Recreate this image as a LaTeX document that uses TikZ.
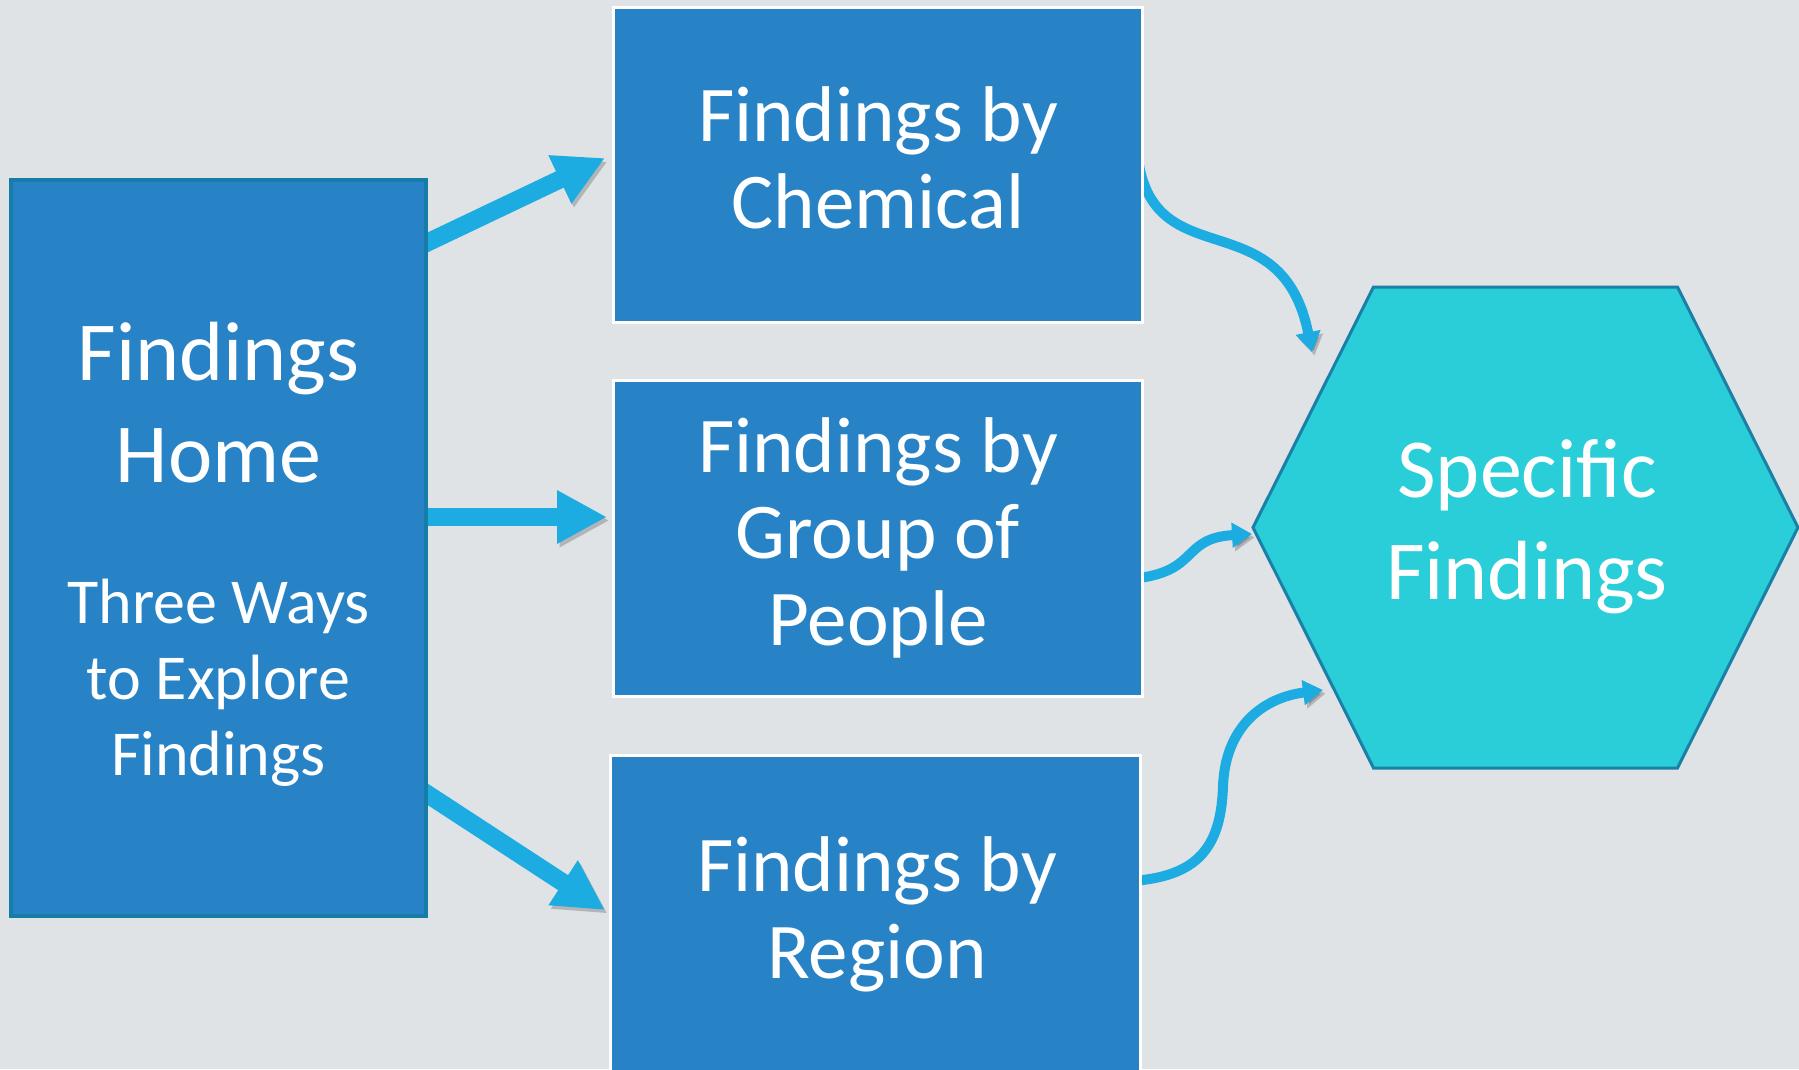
\documentclass[tikz,border=0pt]{standalone}
\usepackage{fontspec}
\setmainfont{Carlito}
\usetikzlibrary{arrows.meta,calc}
\definecolor{bgc}{RGB}{223,227,230}
\definecolor{boxc}{RGB}{39,131,198}
\definecolor{homeb}{RGB}{22,124,168}
\definecolor{hexc}{RGB}{42,206,216}
\definecolor{hexb}{RGB}{26,128,168}
\definecolor{arrc}{RGB}{29,172,226}
\pgfdeclarelayer{background}
\pgfsetlayers{background,main}
\tikzset{
  midbox/.style={rectangle, fill=boxc, draw=white, line width=3pt, inner sep=0pt, anchor=north west},
  homebox/.style={rectangle, fill=boxc, draw=homeb, line width=4pt, inner sep=0pt, anchor=north west},
  hexshape/.style={fill=hexc, draw=hexb, line width=3pt, line join=miter},
  bigtxt/.style={text=white, align=center, inner sep=0pt, anchor=base, font=\fontsize{84pt}{102pt}\selectfont},
  smalltxt/.style={text=white, align=center, inner sep=0pt, anchor=base, font=\fontsize{64pt}{76pt}\selectfont},
  boxtxt/.style={text=white, align=center, inner sep=0pt, anchor=base, font=\fontsize{79pt}{86.5pt}\selectfont},
  softshadow/.style={preaction={draw=black, opacity=0.2, transform canvas={shift={(2.5pt,-3.5pt)}}}},
  blockarrow/.style={draw=arrc, line width=18pt, -{Triangle[width=50pt,length=50pt]}, softshadow},
  curvearrow/.style={draw=arrc, line width=10pt, -{Triangle[width=24pt,length=20pt]}, softshadow},
}
\begin{document}
\begin{tikzpicture}[x=1pt,y=-1pt]
\useasboundingbox (0,0) rectangle (1799,1069);
\begin{pgfonlayer}{background}
  \fill[bgc] (0,0) rectangle (1799,1069);
\end{pgfonlayer}

% boxes
\node[homebox, minimum width=415pt, minimum height=736pt] (home) at (9,178) {};
\node[midbox, minimum width=529pt, minimum height=315pt] (chem) at (612,6) {};
\node[midbox, minimum width=529pt, minimum height=316pt] (group) at (612,379) {};
\node[midbox, minimum width=530pt, minimum height=330pt] (region) at (609,754) {};

% hexagon
\coordinate (spec) at (1525.5,527.5);
\draw[hexshape] ($(spec)+(-272.5,0)$) -- ($(spec)+(-152,-240.5)$) -- ($(spec)+(152,-240.5)$)
  -- ($(spec)+(272.5,0)$) -- ($(spec)+(152,240.5)$) -- ($(spec)+(-152,240.5)$) -- cycle;

% texts (anchor = baseline of the last line)
\node[bigtxt] (homeT) at (218.5,482) {Findings\\Home};
\node[smalltxt] (homeS) at (218.5,775) {Three Ways\\to Explore\\Findings};
\node[boxtxt] (chemT) at (878,228) {Findings by\\Chemical};
\node[boxtxt] (groupT) at (878,645) {Findings by\\Group of\\People};
\node[boxtxt] (regionT) at (877,978) {Findings by\\Region};
\node[bigtxt] (specT) at (1527,599) {Specific\\Findings};

% connectors
\begin{pgfonlayer}{background}
  \draw[blockarrow] ([shift={(-10,69)}]home.north east) -- ([shift={(-7,152)}]chem.north west);
  \draw[blockarrow] ([shift={(-10,-31)}]home.east) -- ([shift={(-5,-21.5)}]group.west);
  \draw[blockarrow] ([shift={(-10,-130)}]home.south east) -- ([shift={(-4,156)}]region.north west);
  \draw[curvearrow] ([shift={(-5,159)}]chem.north east) .. controls +(20,110) and +(-30,-150) .. ([shift={(-213.5,-175.5)}]spec);
  \draw[curvearrow] ([shift={(-5,39.5)}]group.east) .. controls +(60,-8) and +(-70,4) .. ([shift={(-273.5,6.5)}]spec);
  \draw[curvearrow] ([shift={(-4,-40)}]region.east) .. controls +(62,-6) and +(-2,58) .. +(85,-94)
     .. controls +(2,-58) and +(-62,8) .. ([shift={(-202.5,162.5)}]spec);
\end{pgfonlayer}
\end{tikzpicture}
\end{document}
